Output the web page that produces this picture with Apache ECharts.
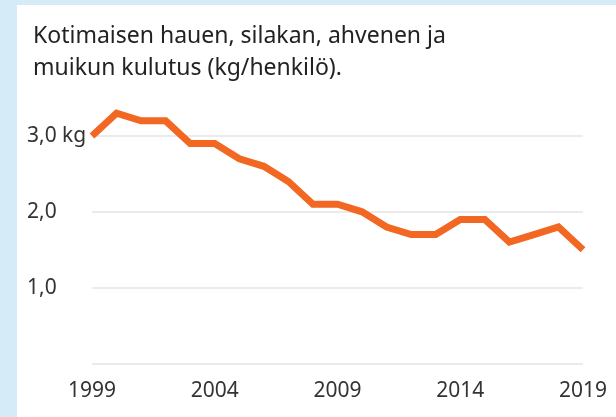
<!DOCTYPE html>
<html>
<head>
<meta charset="utf-8">
<script src="https://cdn.jsdelivr.net/npm/echarts@6/dist/echarts.min.js"></script>
<style>
  html, body { margin: 0; padding: 0; background: #d5ebf8; }
  #main {
    position: absolute;
    left: 17px;
    top: 5px;
    width: 599px;
    height: 412px;
    background: #fff;
  }
</style>
</head>
<body>
<div id="main"></div>
<script>
// vuodet ja kulutus (kg/henkilö)
var years = ['1999', '2000', '2001', '2002', '2003', '2004', '2005', '2006', '2007', '2008',
  '2009', '2010', '2011', '2012', '2013', '2014', '2015', '2016', '2017', '2018', '2019'];
var kulutus = [3.0, 3.3, 3.2, 3.2, 2.9, 2.9, 2.7, 2.6, 2.4, 2.1,
  2.1, 2.0, 1.8, 1.7, 1.7, 1.9, 1.9, 1.6, 1.7, 1.8, 1.5];
var titleText = 'Kotimaisen hauen, silakan, ahvenen ja\nmuikun kulutus (kg/henkilö).';

var font = '"Noto Sans", sans-serif';
var myChart = echarts.init(document.getElementById('main'));
myChart.setOption({
  animation: false,
  title: {
    text: titleText,
    left: 16,
    top: 15,
    padding: 0,
    textStyle: {
      fontFamily: font,
      fontSize: 23,
      fontWeight: 'normal',
      lineHeight: 32,
      color: '#222'
    }
  },
  grid: { left: 75, right: 33, top: 131, bottom: 53.5 },
  xAxis: {
    type: 'category',
    data: years,
    boundaryGap: false,
    axisLine: { show: false },
    axisTick: { show: false },
    axisLabel: {
      interval: 4,
      margin: 17,
      fontFamily: font,
      fontSize: 21,
      color: '#333'
    }
  },
  yAxis: {
    type: 'value',
    min: 0,
    max: 3,
    interval: 1,
    axisLine: { show: false },
    axisTick: { show: false },
    splitLine: { lineStyle: { color: '#e4e4e4', width: 1.5 } },
    axisLabel: {
      align: 'left',
      margin: 65,
      fontFamily: font,
      fontSize: 21,
      color: '#333',
      formatter: function (v) {
        if (v === 0) return '';
        var s = v.toFixed(1).replace('.', ',');
        return v === 3 ? s + ' kg' : s;
      }
    }
  },
  series: [
    {
      type: 'line',
      data: kulutus,
      clip: false,
      symbol: 'none',
      lineStyle: { color: '#f26722', width: 7, join: 'miter' }
    }
  ]
});
</script>
</body>
</html>
